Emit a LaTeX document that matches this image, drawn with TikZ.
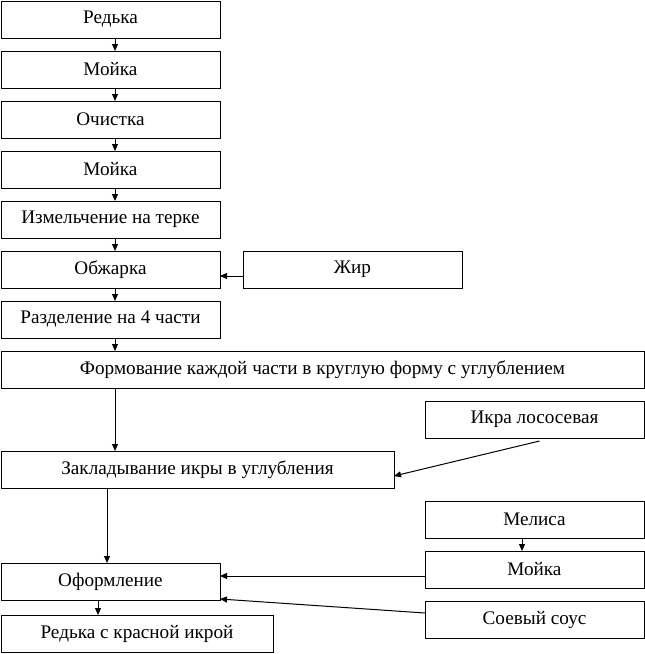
\documentclass[tikz,border=0pt]{standalone}
\usepackage{fontspec}
\setmainfont{Liberation Serif}
\usetikzlibrary{arrows.meta}
\begin{document}
\begin{tikzpicture}[x=1pt,y=-1pt,
  box/.style={draw, line width=1pt, rectangle, inner sep=0pt, outer sep=0pt,
    minimum width=219pt, minimum height=37pt, font=\fontsize{19.2}{21}\selectfont},
  arr/.style={line width=1pt, -{Triangle[width=6pt,length=7pt]}}]
\useasboundingbox (0,0) rectangle (645,654);
\node[box] (r1) at (110.5,19.5) {Редька};
\node[box] (m1) at (110.5,69.5) {Мойка};
\node[box] (o) at (110.5,119.5) {Очистка};
\node[box] (m2) at (110.5,169.5) {Мойка};
\node[box] (iz) at (110.5,219.5) {Измельчение на терке};
\node[box] (ob) at (110.5,269.5) {Обжарка};
\node[box] (zhir) at (352.5,269.5) {Жир};
\node[box] (raz) at (110.5,319.5) {Разделение на 4 части};
\node[box, minimum width=643pt] (form) at (322.5,369.5) {Формование каждой части в круглую форму с углублением};
\node[box] (ikra) at (534.5,419.5) {Икра лососевая};
\node[box, minimum width=393pt] (zak) at (197.5,469.5) {Закладывание икры в углубления};
\node[box] (mel) at (534.5,519.5) {Мелиса};
\node[box] (moy3) at (534.5,569.5) {Мойка};
\node[box] (ofo) at (110.5,581.5) {Оформление};
\node[box] (soy) at (534.5,619.5) {Соевый соус};
\node[box, minimum width=272pt] (fin) at (137,633.5) {Редька с красной икрой};
\foreach \a/\b in {r1/m1,m1/o,o/m2,m2/iz,iz/ob,ob/raz}
  \draw[arr] ([xshift=4.5pt]\a.south) -- ([xshift=4.5pt]\b.north);
\draw[arr] (raz.south -| 115,0) -- (form.north -| 115,0);
\draw[arr] ([yshift=-6.5pt]zhir.west) -- ([yshift=-6.5pt]ob.east);
\draw[arr] (form.south -| 115,0) -- (zak.north -| 115,0);
\draw[arr] ([xshift=5pt,yshift=-3pt]ikra.south) -- ([yshift=-6.5pt]zak.east);
\draw[arr] (zak.south -| 107,0) -- (ofo.north -| 107,0);
\draw[arr] ([xshift=-12.5pt]mel.south) -- ([xshift=-12.5pt]moy3.north);
\draw[arr] ([yshift=-6.5pt]moy3.west) -- ([yshift=5.5pt]ofo.east);
\draw[arr] ([yshift=6.5pt]soy.west) -- ([yshift=1pt]ofo.south east);
\draw[arr] (ofo.south -| 98,0) -- (fin.north -| 98,0);
\end{tikzpicture}
\end{document}
